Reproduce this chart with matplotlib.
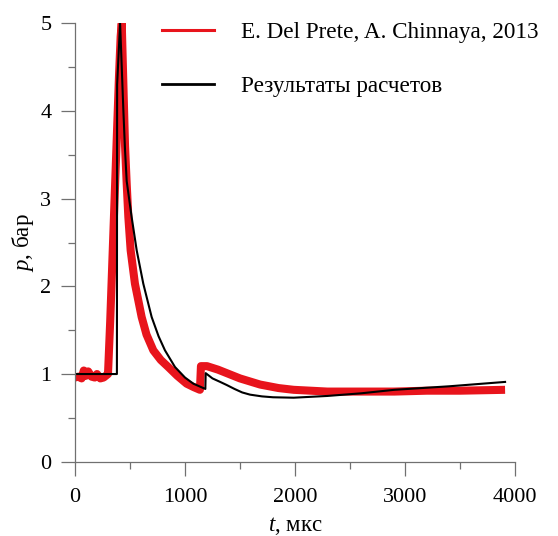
"""
Давление p(t): эксперимент (E. Del Prete, A. Chinnaya, 2013) и результаты расчетов.
"""

import matplotlib
matplotlib.use("Agg")
import matplotlib.pyplot as plt
from matplotlib.lines import Line2D
from matplotlib.ticker import MultipleLocator

# эксперимент: время, мкс / давление, бар
exp_t = [0, 30, 60, 80, 100, 120, 150, 180, 200, 230, 260, 280, 300,
         320, 340, 360, 380, 400, 415, 425, 440, 455, 470, 485, 506,
         545, 606, 650, 712, 780, 848, 930, 1015, 1080, 1136, 1145,
         1200, 1300, 1380, 1500, 1683, 1850, 1988, 2294, 2600, 2903,
         3200, 3500, 3910]
exp_p = [0.96, 0.97, 0.95, 1.04, 0.98, 1.03, 0.97, 0.96, 1.00, 0.95,
         0.96, 0.98, 1.00, 1.6, 2.3, 3.0, 3.7, 4.4, 4.85, 5.0, 4.3, 3.6,
         3.17, 2.79, 2.41, 2.03, 1.65, 1.45, 1.27, 1.16, 1.08, 0.98, 0.89,
         0.85, 0.82, 1.09, 1.09, 1.05, 1.01, 0.95, 0.88, 0.84, 0.82, 0.80,
         0.80, 0.80, 0.81, 0.81, 0.82]

# расчет
calc_t = [0, 381, 383, 410, 425, 440, 455, 470, 515, 561, 621, 697, 760,
          818, 909, 1000, 1076, 1185, 1188, 1250, 1320, 1379, 1450, 1520,
          1591, 1700, 1800, 1988, 2294, 2600, 2903, 3400, 3910]
calc_p = [1.0, 1.0, 4.3, 5.0, 4.5, 4.0, 3.55, 3.2, 2.79, 2.41, 2.03,
          1.65, 1.43, 1.27, 1.08, 0.96, 0.89, 0.83, 1.01, 0.95, 0.91,
          0.875, 0.83, 0.79, 0.765, 0.745, 0.735, 0.73, 0.75, 0.78, 0.82,
          0.86, 0.91]

LABELS = ["E. Del Prete, A. Chinnaya, 2013", "Результаты расчетов"]

plt.rcParams["font.family"] = ["Liberation Serif", "DejaVu Serif"]
plt.rcParams["mathtext.fontset"] = "custom"
plt.rcParams["mathtext.rm"] = "Liberation Serif"
plt.rcParams["mathtext.it"] = "Liberation Serif:italic"

fig = plt.figure(figsize=(5.58, 5.36), dpi=100)
ax = fig.add_axes([0.1344, 0.1386, 0.7885, 0.8179])

ax.plot(exp_t, exp_p, color="#e8141c", linewidth=5.8,
        solid_joinstyle="round", solid_capstyle="butt")
ax.plot(calc_t, calc_p, color="black", linewidth=1.5)

ax.set_xlim(0, 4000)
ax.set_ylim(0, 5)
ax.xaxis.set_major_locator(MultipleLocator(1000))
ax.xaxis.set_minor_locator(MultipleLocator(500))
ax.yaxis.set_major_locator(MultipleLocator(1))
ax.yaxis.set_minor_locator(MultipleLocator(0.5))

for side in ["top", "right"]:
    ax.spines[side].set_visible(False)
for side in ["left", "bottom"]:
    ax.spines[side].set_color("#707070")
    ax.spines[side].set_linewidth(0.9)

ax.tick_params(which="major", length=10, width=0.9, color="#707070",
               labelsize=16)
ax.tick_params(which="minor", length=5, width=0.9, color="#707070")
ax.tick_params(axis="x", which="major", pad=9)
ax.tick_params(axis="y", which="major", pad=7)

ax.set_xlabel("$t$, мкс", fontsize=16.5, labelpad=6)
ax.set_ylabel("$p$, бар", fontsize=16.5, labelpad=3)

handles = [Line2D([], [], color="#e8141c", linewidth=2.2),
           Line2D([], [], color="black", linewidth=2.0)]
ax.legend(handles, LABELS, loc="upper left", bbox_to_anchor=(0.273, 0.976),
          bbox_transform=fig.transFigure, frameon=False, fontsize=16.7,
          handlelength=2.24, handletextpad=1.19, labelspacing=1.4,
          borderaxespad=0)

fig.savefig("out.png", dpi=100)
